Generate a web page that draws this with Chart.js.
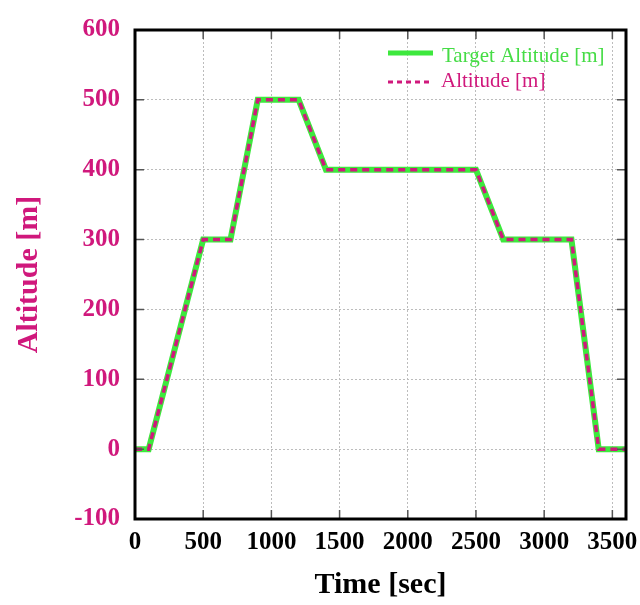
<!DOCTYPE html>
<html>
<head>
<meta charset="utf-8">
<script src="https://cdn.jsdelivr.net/npm/chart.js@4.4.1/dist/chart.umd.min.js"></script>
<style>
  html, body { margin: 0; padding: 0; background: #fff; }
  #wrap { width: 640px; height: 605px; }
</style>
</head>
<body>
<div id="wrap"><canvas id="chart" width="640" height="605"></canvas></div>
<script>
// flight profile: time in seconds vs altitude in metres
const timeSec = [0, 100, 500, 700, 900, 1200, 1400, 2500, 2700, 3200, 3400, 3600];
const targetAlt = [0, 0, 300, 300, 500, 500, 400, 400, 300, 300, 0, 0];
const measuredAlt = [0, 0, 300, 300, 500, 500, 400, 400, 300, 300, 0, 0];

const xTicks = [0, 500, 1000, 1500, 2000, 2500, 3000, 3500];
const yTicks = [-100, 0, 100, 200, 300, 400, 500, 600];

const GREEN = "#3de83d";
const MAGENTA = "#d0187c";
const SERIF = "'Liberation Serif', 'Times New Roman', serif";

const toPoints = (xs, ys) => xs.map((x, i) => ({ x, y: ys[i] }));

// frame, inward tick marks and in-plot legend
const framePlugin = {
  id: "frame",
  afterDraw(chart) {
    const { ctx, chartArea: a, scales } = chart;
    ctx.save();
    ctx.strokeStyle = "#555";
    ctx.lineWidth = 1.5;
    ctx.beginPath();
    for (const v of yTicks) {
      const y = scales.y.getPixelForValue(v);
      ctx.moveTo(a.left, y); ctx.lineTo(a.left + 9, y);
      ctx.moveTo(a.right, y); ctx.lineTo(a.right - 9, y);
    }
    for (const v of xTicks) {
      const x = scales.x.getPixelForValue(v);
      ctx.moveTo(x, a.bottom); ctx.lineTo(x, a.bottom - 9);
      ctx.moveTo(x, a.top); ctx.lineTo(x, a.top + 9);
    }
    ctx.stroke();

    ctx.strokeStyle = "#000";
    ctx.lineWidth = 3;
    ctx.strokeRect(a.left, a.top, a.right - a.left, a.bottom - a.top);

    // legend
    const lx = a.right - 238;
    ctx.font = `21px ${SERIF}`;
    ctx.textBaseline = "middle";
    ctx.lineWidth = 5;
    ctx.strokeStyle = GREEN;
    ctx.beginPath(); ctx.moveTo(lx, a.top + 23); ctx.lineTo(lx + 45, a.top + 23); ctx.stroke();
    ctx.fillStyle = "#45dc45";
    ctx.fillText("Target Altitude [m]", lx + 54, a.top + 26);

    ctx.lineWidth = 3;
    ctx.strokeStyle = MAGENTA;
    ctx.setLineDash([5, 4]);
    ctx.beginPath(); ctx.moveTo(lx, a.top + 52); ctx.lineTo(lx + 45, a.top + 52); ctx.stroke();
    ctx.setLineDash([]);
    ctx.fillStyle = MAGENTA;
    ctx.fillText("Altitude [m]", lx + 53, a.top + 51);
    ctx.restore();
  },
};

new Chart(document.getElementById("chart"), {
  type: "line",
  data: {
    datasets: [
      {
        label: "Altitude [m]",
        data: toPoints(timeSec, measuredAlt),
        borderColor: MAGENTA,
        borderWidth: 3.5,
        borderDash: [7, 5],
        pointRadius: 0,
        tension: 0,
        order: 0,
      },
      {
        label: "Target Altitude [m]",
        data: toPoints(timeSec, targetAlt),
        borderColor: GREEN,
        borderWidth: 6,
        pointRadius: 0,
        tension: 0,
        order: 1,
      },
    ],
  },
  options: {
    responsive: false,
    animation: false,
    layout: { padding: { left: 0, right: 14, top: 29, bottom: 0 } },
    plugins: { legend: { display: false }, tooltip: { enabled: false } },
    scales: {
      x: {
        type: "linear",
        min: 0,
        max: 3600,
        afterFit: (s) => {
          s.height = 86;
          // let the last label hang past the plot edge
          s.paddingLeft = 0;
          s.paddingRight = 0;
        },
        afterBuildTicks: (s) => { s.ticks = xTicks.map((value) => ({ value })); },
        ticks: {
          color: "#000",
          padding: 9,
          maxRotation: 0,
          font: { family: SERIF, size: 25, weight: "bold" },
          callback: (v) => String(v),
        },
        grid: { color: "#bcbcbc", lineWidth: 1, drawTicks: false },
        border: { display: false, dash: [2, 2] },
        title: {
          display: true,
          text: "Time [sec]",
          color: "#000",
          font: { family: SERIF, size: 30, weight: "bold" },
          padding: { top: 2, bottom: 2 },
        },
      },
      y: {
        type: "linear",
        min: -100,
        max: 600,
        afterFit: (s) => { s.width = 135; },
        afterBuildTicks: (s) => { s.ticks = yTicks.map((value) => ({ value })); },
        ticks: {
          color: MAGENTA,
          padding: 15,
          font: { family: SERIF, size: 25, weight: "bold" },
          callback: (v) => String(v),
        },
        grid: { color: "#bcbcbc", lineWidth: 1, drawTicks: false },
        border: { display: false, dash: [2, 2] },
        title: {
          display: true,
          text: "Altitude [m]",
          color: MAGENTA,
          font: { family: SERIF, size: 30, weight: "bold" },
          padding: { top: 11, bottom: 11 },
        },
      },
    },
  },
  plugins: [framePlugin],
});
</script>
</body>
</html>
